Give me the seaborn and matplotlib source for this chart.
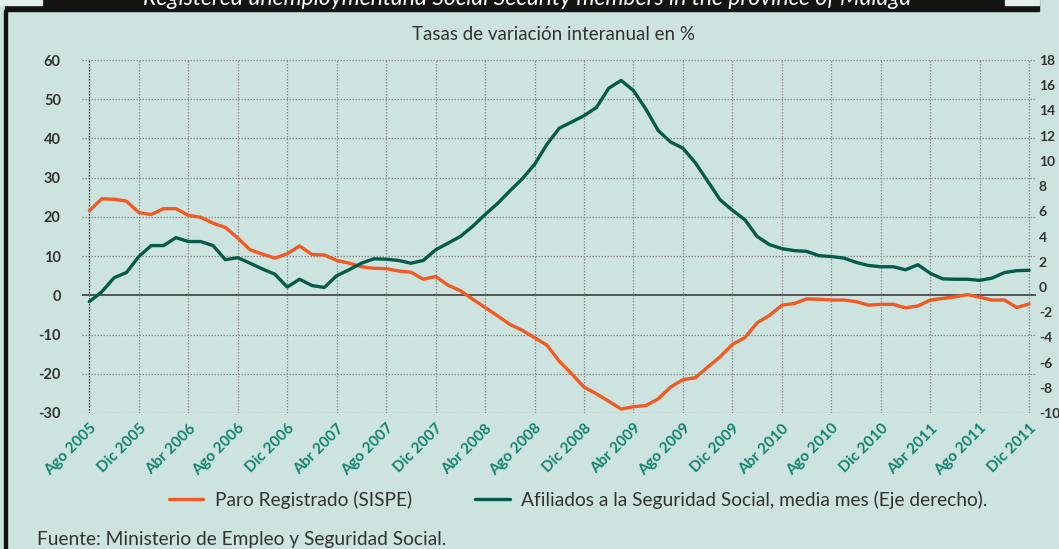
import matplotlib
matplotlib.use("Agg")
import matplotlib.pyplot as plt
import seaborn as sns
import pandas as pd
import numpy as np
from matplotlib.patches import Rectangle
from matplotlib.lines import Line2D

# ---- data ----
tick_labels = ["Ago 2005", "Dic 2005", "Abr 2006", "Ago 2006", "Dic 2006", "Abr 2007",
               "Ago 2007", "Dic 2007", "Abr 2008", "Ago 2008", "Dic 2008", "Abr 2009",
               "Ago 2009", "Dic 2009", "Abr 2010", "Ago 2010", "Dic 2010", "Abr 2011",
               "Ago 2011", "Dic 2011"]

paro = [21.6, 24.6, 24.5, 24.0, 21.1, 20.6, 22.1, 22.1, 20.4, 19.9,
        18.4, 17.3, 14.6, 11.6, 10.5, 9.5, 10.6, 12.6, 10.4, 10.3,
        8.9, 8.2, 7.3, 6.9, 6.8, 6.2, 5.9, 4.1, 4.8, 2.6,
        1.2, -1.0, -3.1, -5.2, -7.4, -8.9, -10.8, -12.7, -16.8, -20.0,
        -23.4, -25.1, -27.0, -29.0, -28.4, -28.1, -26.4, -23.4, -21.5, -21.0,
        -18.3, -15.7, -12.5, -10.8, -7.0, -5.1, -2.5, -2.1, -0.9, -1.0,
        -1.2, -1.2, -1.6, -2.5, -2.3, -2.3, -3.2, -2.7, -1.2, -0.8,
        -0.4, 0.2, -0.5, -1.2, -1.2, -3.1, -2.2]

afiliados = [-1.17, -0.39, 0.73, 1.14, 2.41, 3.28, 3.28, 3.91, 3.60, 3.60,
             3.28, 2.16, 2.32, 1.88, 1.42, 1.01, -0.01, 0.61, 0.11, -0.04,
             0.89, 1.36, 1.88, 2.23, 2.20, 2.10, 1.88, 2.10, 2.94, 3.47,
             4.00, 4.81, 5.74, 6.61, 7.61, 8.57, 9.72, 11.31, 12.59, 13.08,
             13.58, 14.23, 15.76, 16.38, 15.57, 14.11, 12.40, 11.50, 11.00, 9.85,
             8.39, 6.92, 6.08, 5.34, 4.00, 3.35, 3.04, 2.88, 2.82, 2.48,
             2.41, 2.29, 1.95, 1.70, 1.60, 1.60, 1.36, 1.76, 1.08, 0.64,
             0.61, 0.61, 0.52, 0.70, 1.14, 1.29, 1.32]

left_ticks = [-30, -20, -10, 0, 10, 20, 30, 40, 50, 60]
right_ticks = [-10, -8, -6, -4, -2, 0, 2, 4, 6, 8, 10, 12, 14, 16, 18]

# ---- style ----
BG = "#cde3df"
ORANGE = "#f15a22"
GREEN = "#045b48"
TEAL = "#13836f"
DARK = "#333333"

sns.set_style("white", {"axes.facecolor": BG, "figure.facecolor": BG})
plt.rcParams["font.family"] = ["Lato", "DejaVu Sans"]

df = pd.DataFrame({"mes": np.arange(len(paro)), "paro": paro, "afiliados": afiliados})

W, H = 1059, 549
fig = plt.figure(figsize=(W / 100, H / 100), dpi=100, facecolor=BG)
ax = fig.add_axes([81.7 / W, 1 - 413 / H, (1036 - 81.7) / W, (413 - 60) / H])
ax.patch.set_alpha(0)

# grid
for v in left_ticks:
    if v == 0:
        continue
    ax.axhline(v, color="#8a8f8e", lw=0.9, ls=(0, (1.2, 1.2)), zorder=0)
tick_pos = list(range(0, len(paro), 4))
for i, p in enumerate(tick_pos):
    ax.axvline(p, color="#222222" if i == 0 else "#8a8f8e", lw=0.9,
               ls=(0, (1.2, 1.2)), zorder=0)
ax.axhline(0, color="#555555", lw=1.4, zorder=1)

sns.lineplot(data=df, x="mes", y="paro", ax=ax, color=ORANGE, lw=2.4, zorder=3)
ax.set_xlim(-0.62, 76.55)
ax.set_ylim(-30, 60)
ax.set_yticks(left_ticks)
ax.set_yticklabels([str(v) for v in left_ticks], fontsize=10.5, fontweight="bold", color=DARK)
ax.set_xticks(tick_pos)
ax.set_xticklabels(tick_labels, rotation=45, ha="right", rotation_mode="anchor",
                   fontsize=11, fontweight="bold", color=TEAL)
ax.tick_params(axis="y", length=0, pad=15)
ax.tick_params(axis="x", length=0, pad=6)
ax.set_xlabel("")
ax.set_ylabel("")
for s in ax.spines.values():
    s.set_visible(False)

ax2 = ax.twinx()
ax2.patch.set_visible(False)
sns.lineplot(data=df, x="mes", y="afiliados", ax=ax2, color=GREEN, lw=2.4, zorder=3)
ax2.set_ylim(-10, 18)
ax2.set_yticks(right_ticks)
ax2.set_yticklabels([str(v) for v in right_ticks], fontsize=10, fontweight="bold", color=DARK)
ax2.tick_params(axis="y", length=0, pad=2)
ax2.set_ylabel("")
for s in ax2.spines.values():
    s.set_visible(False)

# frame decorations
fig.patches.append(Rectangle((5 / W, 1 - 11 / H), (1039 - 5) / W, 11 / H,
                             transform=fig.transFigure, color="#141414", zorder=0))
fig.patches.append(Rectangle((0, 1 - 5 / H), 42 / W, 5 / H,
                             transform=fig.transFigure, color="#e4eeec", zorder=1))
fig.patches.append(Rectangle((1005 / W, 1 - 5 / H), 34 / W, 5 / H,
                             transform=fig.transFigure, color="#e4eeec", zorder=1))
fig.patches.append(Rectangle((4 / W, 0), 3 / W, 1 - 10 / H,
                             transform=fig.transFigure, color="#141414", zorder=0))

fig.text(527 / W, 1 - 5 / H,
         "Registered unemploymentand Social Security members in the province of Malaga",
         ha="center", va="baseline", fontsize=16.5, style="italic", color="white")
fig.text(553 / W, 1 - 34 / H, "Tasas de variación interanual en %",
         ha="center", va="center", fontsize=13.5, color=DARK)

handles = [Line2D([], [], color=ORANGE, lw=2.4), Line2D([], [], color=GREEN, lw=2.4)]
fig.legend(handles, ["Paro Registrado (SISPE)",
                     "Afiliados a la Seguridad Social, media mes (Eje derecho)."],
           loc="center", bbox_to_anchor=(578 / W, 1 - 500 / H), ncol=2, frameon=False,
           fontsize=13.8, handlelength=1.8, handletextpad=0.6, columnspacing=3.3,
           labelcolor=DARK)

fig.text(37 / W, 1 - 540 / H, "Fuente: Ministerio de Empleo y Seguridad Social.",
         ha="left", va="center", fontsize=13.8, color=DARK)

fig.savefig("out.png", dpi=100, facecolor=BG)
